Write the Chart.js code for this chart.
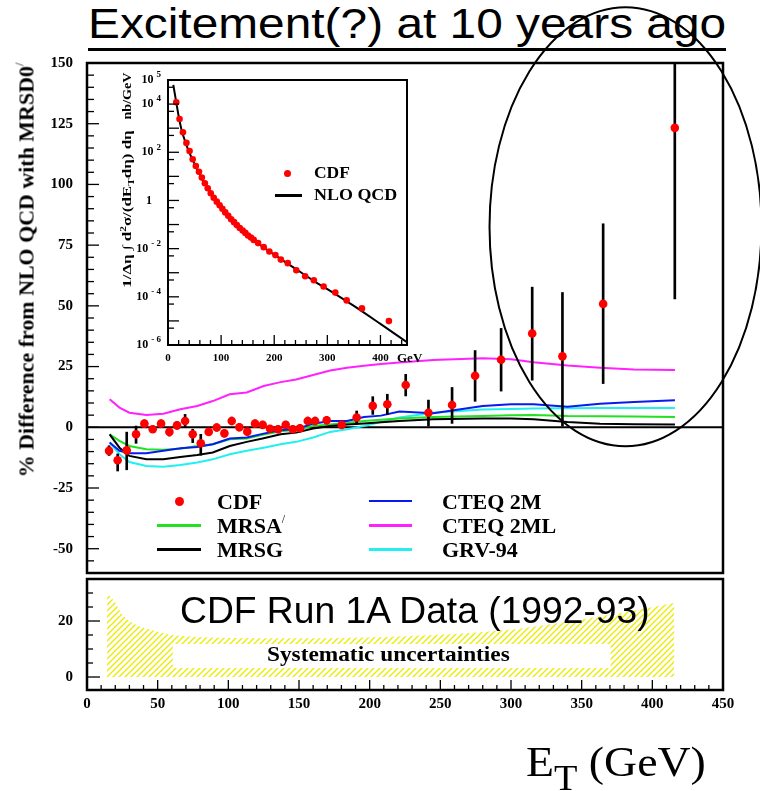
<!DOCTYPE html>
<html>
<head>
<meta charset="utf-8">
<title>CDF Run 1A inclusive jets</title>
<script src="https://cdn.jsdelivr.net/npm/chart.js@4.4.1/dist/chart.umd.min.js"></script>
<style>
  body { margin: 0; background: #fff; }
  #page { position: relative; width: 760px; height: 791px; overflow: hidden; font-family: "Liberation Serif", serif; color: #000; }
  canvas { position: absolute; }
  .fit { position: absolute; white-space: nowrap; transform-origin: 0 50%; }
  .rot { position: absolute; white-space: nowrap; transform-origin: 50% 50%; transform: translate(-50%,-50%) rotate(-90deg); }
  .b { font-weight: bold; }
  .sw { position: absolute; }
  .dot { position: absolute; border-radius: 50%; background: #ff0000; }
  sup, sub, .pr { line-height: 0; }
  .pr { font-size: 12px; font-weight: normal; vertical-align: 10px; }
</style>
</head>
<body>
<div id="page">
  <div class="fit" data-w="638" style="left:88px;top:3px;font:42px/42px 'Liberation Sans',sans-serif;">Excitement(?) at 10 years ago</div>
  <div style="position:absolute;left:88px;top:48px;width:638px;height:3px;background:#000;"></div>

  <canvas id="main" width="760" height="791" style="left:0;top:0;"></canvas>
  <canvas id="lower" width="760" height="160" style="left:0;top:556px;"></canvas>
  <canvas id="inset" width="330" height="320" style="left:100px;top:60px;"></canvas>

  <!-- axis titles -->
  <div class="rot b" data-w="415" style="left:27px;top:270px;font-size:21px;line-height:21px;">% Difference from NLO QCD with MRSD0<span class="pr">/</span></div>
  <div class="rot b" data-w="47" style="left:127px;top:96px;font-size:12px;line-height:12px;">nb/GeV</div>
  <div class="rot b" data-w="158" style="left:127px;top:209px;font-size:12px;line-height:12px;">1/&Delta;&eta; &int; d<sup style="font-size:8px;">2</sup>&sigma;/(dE<sub style="font-size:8px;">T</sub>d&eta;) d&eta;</div>
  <div class="fit b" style="left:397px;top:350.5px;font-size:13px;line-height:13px;">GeV</div>
  <div class="fit" data-w="180" style="left:526px;top:739.5px;font-size:43px;line-height:43px;">E<span style="font-size:36px;vertical-align:-14px;line-height:0;">T</span> (GeV)</div>

  <!-- inset legend -->
  <div class="dot" style="left:283.5px;top:169.5px;width:7px;height:7px;"></div>
  <div class="fit b" data-w="36" style="left:314px;top:165px;font-size:16px;line-height:16px;">CDF</div>
  <div class="sw" style="left:275px;top:194px;width:27px;height:2.5px;background:#000;"></div>
  <div class="fit b" data-w="83" style="left:314px;top:187px;font-size:16px;line-height:16px;">NLO QCD</div>

  <!-- main legend -->
  <div class="dot" style="left:174.5px;top:496.5px;width:9px;height:9px;"></div>
  <div class="fit b" style="left:217px;top:490.5px;font-size:22px;line-height:22px;">CDF</div>
  <div class="sw" style="left:157px;top:524px;width:44px;height:2.5px;background:#22e022;"></div>
  <div class="fit b" style="left:217px;top:515px;font-size:22px;line-height:22px;">MRSA<span class="pr">/</span></div>
  <div class="sw" style="left:157px;top:548px;width:44px;height:2.5px;background:#000;"></div>
  <div class="fit b" style="left:217px;top:539px;font-size:22px;line-height:22px;">MRSG</div>
  <div class="sw" style="left:369px;top:499.5px;width:43px;height:2.5px;background:#0a1aee;"></div>
  <div class="fit b" style="left:442px;top:490.5px;font-size:22px;line-height:22px;">CTEQ 2M</div>
  <div class="sw" style="left:369px;top:524px;width:43px;height:2.5px;background:#ff22ff;"></div>
  <div class="fit b" style="left:442px;top:515px;font-size:22px;line-height:22px;">CTEQ 2ML</div>
  <div class="sw" style="left:369px;top:548px;width:43px;height:2.5px;background:#22f0f0;"></div>
  <div class="fit b" style="left:442px;top:539px;font-size:22px;line-height:22px;">GRV-94</div>

  <!-- lower panel texts -->
  <div class="fit" data-w="470" style="left:180px;top:591.5px;font:37px/37px 'Liberation Sans',sans-serif;">CDF Run 1A Data (1992-93)</div>
  <div class="fit b" data-w="243" style="left:267px;top:644px;font-size:21px;line-height:21px;">Systematic uncertainties</div>
</div>

<script>
Chart.defaults.font.family = "'Liberation Serif', serif";
Chart.defaults.font.weight = 'bold';
Chart.defaults.color = '#000';

// CDF inclusive jet points: E_T bin, % difference, error bar ends
const cdfEt = [15.6, 21.7, 28.1, 34.7, 40.6, 46.5, 52.4, 58.3, 63.7, 69.4, 74.8, 80.5, 86.1, 91.8, 97.2, 102.4, 107.8, 113.4, 118.9, 124.3, 129.5, 135.2, 140.6, 145.6, 150.7, 156.2, 161.4, 169.6, 180.2, 190.8, 202.2, 212.5, 225.5, 241.6, 258.3, 274.6, 293.0, 315.0, 336.4, 365.2, 415.9];
const cdfDiff = [-9.7, -13.6, -9.5, -2.9, 1.5, -0.8, 1.5, -1.9, 0.8, 2.6, -2.9, -6.6, -1.9, -0.1, -2.5, 2.6, 0.0, -1.8, 1.5, 1.0, -0.6, -0.8, 1.0, -0.8, -0.4, 2.6, 2.6, 2.9, 1.0, 4.0, 8.8, 9.5, 17.4, 6.0, 9.2, 21.2, 27.8, 38.6, 29.2, 50.8, 123.3];
const cdfLo = [-11.6, -18, -17.5, -6.6, 0, -2.2, 0, -3.6, -0.8, -0.1, -6.3, -11.5, -3.4, -1.6, -4, 1, -1.5, -3.3, 0, -0.5, -2, -2.3, -0.5, -2.3, -1.9, 1, 1, 1.4, -0.5, 1.3, 5.3, 5.3, 12.9, 0.5, 1.6, 10.7, 14.9, 19.4, 0.5, 18, 52.9];
const cdfHi = [-7.6, -11, -2, 0.5, 3, 0.6, 3, -0.2, 2.4, 5.3, -0.8, -2.9, -0.4, 1.4, -1, 4.2, 1.5, -0.3, 3, 2.5, 0.8, 0.7, 2.5, 0.7, 1.1, 4.2, 4.2, 4.4, 2.5, 6.7, 12.6, 13.6, 21.8, 11.2, 16.4, 31.6, 40.7, 57.7, 55.5, 83.8, 175];

// inset: cross section (nb/GeV)
const cdfXsec = [1.2e4, 2.4e3, 680, 245, 112, 51, 27, 15.5, 8.9, 5.2, 3.2, 2.0, 1.3, 0.89, 0.63, 0.45, 0.32, 0.23, 0.166, 0.126, 0.095, 0.072, 0.056, 0.045, 0.035, 0.029, 0.023, 0.017, 0.0115, 0.0076, 0.0054, 0.0035, 0.0025, 0.00126, 7.1e-4, 4.9e-4, 2.7e-4, 1.5e-4, 7.1e-5, 3.3e-5, 9.8e-6];
const nloEt = [10, 15, 20, 25, 30, 35, 40, 50, 60, 70, 80, 90, 100, 110, 120, 130, 140, 150, 160, 180, 200, 225, 250, 275, 300, 350, 400, 450];
const nloXsec = [6.3e4, 1.4e4, 3.2e3, 950, 400, 190, 100, 33, 11.5, 4.6, 2.0, 0.95, 0.5, 0.27, 0.155, 0.092, 0.056, 0.036, 0.024, 0.0112, 0.0056, 0.0024, 0.00105, 4.5e-4, 2.1e-4, 4.2e-5, 7.5e-6, 1.3e-6];

// theory curves relative to MRSD0'
const thEt = [16, 23, 30, 42, 54, 66, 78, 89, 101, 113, 125, 137, 148, 160, 172, 184, 196, 208, 221, 245, 280, 300, 316, 340, 363, 387, 416];
const mrsa = [-2.9, -5.6, -7.7, -9.0, -9.3, -8.8, -7.7, -7.0, -4.9, -4.6, -3.0, -1.6, -1.0, 0.5, 1.2, 1.9, 2.6, 3.1, 3.6, 4.2, 4.6, 5.0, 5.1, 4.6, 4.5, 4.4, 4.2];
const mrsg = [-2.9, -8.4, -11.8, -13.2, -13.2, -12.2, -11.4, -10.4, -7.7, -6.0, -4.5, -2.9, -2.2, -0.5, 0.5, 1.1, 1.6, 2.1, 2.6, 3.3, 3.6, 3.6, 3.3, 2.2, 1.5, 1.2, 1.1];
const cteq2m = [-6.3, -9.7, -10.7, -10.7, -9.7, -8.6, -8.1, -7.0, -4.6, -4.2, -2.6, -1.1, -0.8, 1.5, 2.6, 2.6, 4.2, 4.8, 6.5, 5.8, 8.8, 9.5, 9.5, 8.5, 9.7, 10.4, 11.1];
const cteq2ml = [11.5, 8.1, 6.0, 5.1, 5.6, 7.4, 8.8, 10.8, 13.6, 14.3, 17.0, 18.6, 19.7, 21.5, 23.4, 24.5, 25.3, 26.1, 26.7, 27.7, 28.4, 28.0, 26.8, 25.4, 24.5, 23.8, 23.6];
const grv94 = [-6.3, -11.1, -14.3, -15.9, -16.2, -15.5, -14.5, -13.2, -11.1, -9.7, -8.4, -7.0, -6.0, -4.2, -1.9, -0.8, 0.5, 2.2, 4.0, 6.0, 7.3, 7.5, 7.7, 7.8, 7.9, 7.9, 7.9];

// systematic band (lower panel)
const sysEt = [14.2, 19.5, 26.3, 36.7, 50.3, 60.6, 80, 108, 177, 245.6, 297, 348, 382.6, 415.6];
const sysTop = [30, 26.9, 21.5, 18.2, 16.2, 15.0, 14.3, 13.9, 13.9, 15.0, 16.8, 20.4, 23.3, 26.4];
const holeEt = [60.6, 370.6];
const holeTop = [11.8, 11.8];
const holeBottom = 3.2;

// tick labels
const mainYTicks = [-50, -25, 0, 25, 50, 75, 100, 125, 150];
const lowYTicks = [0, 20];
const etTicks = [0, 50, 100, 150, 200, 250, 300, 350, 400, 450];
const insetEtTicks = [0, 100, 200, 300, 400];
const insetExps = [5, 4, 2, 0, -2, -4, -6];

// hand drawn ellipse, in data units of the main panel
const circled = { et: 381, diff: 82.6, rEt: 96.2, rDiff: 90.4 };

const xy = (xs, ys) => xs.map((x, i) => ({ x: x, y: ys[i] }));
function steps(a, b, s) {
  const r = [];
  for (let v = a; v <= b + 1e-9; v += s) r.push(+v.toFixed(6));
  return r;
}

// box + inward ticks
const frame = {
  id: 'frame',
  beforeDraw(chart, args, o) {
    if (!o.fill) return;
    const a = chart.chartArea, ctx = chart.ctx;
    ctx.save();
    ctx.fillStyle = o.fill;
    ctx.fillRect(a.left, a.top, a.width, a.height);
    ctx.restore();
  },
  afterDatasetsDraw(chart, args, o) {
    const { ctx, chartArea: a } = chart;
    ctx.save();
    ctx.strokeStyle = '#000';
    ctx.lineWidth = 1.3;
    (o.ticks || []).forEach(t => {
      const sc = chart.scales[t.axis];
      t.at.forEach(v => {
        const p = sc.getPixelForValue(v);
        const len = t.major.includes(v) ? t.long : t.short;
        ctx.beginPath();
        if (t.axis === 'y') { ctx.moveTo(a.left, p); ctx.lineTo(a.left + len, p); }
        else { ctx.moveTo(p, a.bottom); ctx.lineTo(p, a.bottom - len); }
        ctx.stroke();
      });
    });
    ctx.lineWidth = o.border;
    ctx.strokeRect(a.left, a.top, a.width, a.height);
    ctx.restore();
  }
};

const ellipse = {
  id: 'ellipse',
  afterDraw(chart) {
    const { ctx, scales: { x, y } } = chart;
    const cx = x.getPixelForValue(circled.et), cy = y.getPixelForValue(circled.diff);
    const rx = x.getPixelForValue(circled.et + circled.rEt) - cx;
    const ry = cy - y.getPixelForValue(circled.diff + circled.rDiff);
    ctx.save();
    ctx.beginPath();
    ctx.ellipse(cx, cy, rx, ry, 0, 0, 2 * Math.PI);
    ctx.lineWidth = 2;
    ctx.strokeStyle = '#000';
    ctx.stroke();
    ctx.restore();
  }
};

// inset tick labels with raised exponents
const insetLabels = {
  id: 'insetLabels',
  afterDraw(chart) {
    const { ctx, chartArea: a, scales: { x, y } } = chart;
    ctx.save();
    ctx.fillStyle = '#000';
    ctx.textBaseline = 'middle';
    ctx.font = "bold 11px 'Liberation Serif'";
    ctx.textAlign = 'center';
    insetEtTicks.forEach(v => ctx.fillText(String(v), x.getPixelForValue(v), a.bottom + 13));
    insetExps.forEach(e => {
      const py = y.getPixelForValue(Math.pow(10, e));
      ctx.textAlign = 'right';
      if (e === 0) {
        ctx.font = "bold 12px 'Liberation Serif'";
        ctx.fillText('1', a.left - 16, py);
        return;
      }
      ctx.font = "bold 9px 'Liberation Serif'";
      const ex = String(e).replace('-', '- ');
      const ew = ctx.measureText(ex).width;
      ctx.fillText(ex, a.left - 7, py - 5);
      ctx.font = "bold 12px 'Liberation Serif'";
      ctx.fillText('10', a.left - 7 - ew - 3, py);
    });
    ctx.restore();
  }
};

function hatch() {
  const c = document.createElement('canvas');
  c.width = 6; c.height = 6;
  const g = c.getContext('2d');
  g.strokeStyle = '#eaea00';
  g.lineWidth = 1.3;
  g.beginPath();
  g.moveTo(0, 6); g.lineTo(6, 0);
  g.moveTo(-1, 1); g.lineTo(1, -1);
  g.moveTo(5, 7); g.lineTo(7, 5);
  g.stroke();
  return g.createPattern(c, 'repeat');
}

function curve(label, ys, color, order) {
  return { label: label, data: xy(thEt, ys), borderColor: color, borderWidth: 2, pointRadius: 0, order: order };
}

// main panel
new Chart(document.getElementById('main'), {
  type: 'line',
  data: {
    datasets: [
      { label: 'CDF', data: xy(cdfEt, cdfDiff), showLine: false, pointRadius: 4.3, pointBackgroundColor: '#ff0000', pointBorderWidth: 0, order: 0 },
      { type: 'bar', label: 'err', data: cdfEt.map((x, i) => ({ x: x, y: [cdfLo[i], cdfHi[i]] })), backgroundColor: '#000', barThickness: 2, grouped: false, order: 1 },
      curve('CTEQ 2M', cteq2m, '#0a1aee', 2),
      curve('MRSG', mrsg, '#000000', 3),
      curve('MRSA\'', mrsa, '#22e022', 4),
      curve('GRV-94', grv94, '#22f0f0', 5),
      curve('CTEQ 2ML', cteq2ml, '#ff22ff', 6),
      { label: 'zero', data: [{ x: 0, y: 0 }, { x: 450, y: 0 }], borderColor: '#000', borderWidth: 2, pointRadius: 0, order: 7 }
    ]
  },
  options: {
    responsive: false,
    animation: false,
    events: [],
    layout: { padding: { left: 0, top: 63, right: 37, bottom: 218 } },
    scales: {
      x: { type: 'linear', min: 0, max: 450, offset: false, display: false },
      y: {
        type: 'linear', min: -60, max: 150,
        afterBuildTicks: s => { s.ticks = mainYTicks.map(v => ({ value: v })); },
        afterFit: s => { s.width = 87; },
        grid: { display: false, drawTicks: false },
        border: { display: false },
        ticks: { padding: 14, font: { size: 15 } }
      }
    },
    plugins: {
      legend: { display: false },
      tooltip: { enabled: false },
      frame: { border: 2.5, ticks: [{ axis: 'y', at: steps(-60, 150, 5), major: mainYTicks, short: 7, long: 12 }] }
    }
  },
  plugins: [frame, ellipse]
});

// lower panel: systematic uncertainty band
new Chart(document.getElementById('lower'), {
  type: 'line',
  data: {
    datasets: [
      { label: 'hole', data: xy(holeEt, holeTop), fill: { value: holeBottom }, backgroundColor: '#ffffff', borderWidth: 0, pointRadius: 0, order: 1 },
      { label: 'syst', data: xy(sysEt, sysTop), fill: 'origin', backgroundColor: hatch(), borderWidth: 0, pointRadius: 0, tension: 0.3, order: 2 }
    ]
  },
  options: {
    responsive: false,
    animation: false,
    events: [],
    layout: { padding: { left: 0, top: 0, right: 37, bottom: 0 } },
    scales: {
      x: {
        type: 'linear', min: 0, max: 450, offset: false,
        afterBuildTicks: s => { s.ticks = etTicks.map(v => ({ value: v })); },
        afterFit: s => { s.height = 26; },
        grid: { display: false, drawTicks: false },
        border: { display: false },
        ticks: { padding: 5, font: { size: 15 }, maxRotation: 0, autoSkip: false }
      },
      y: {
        type: 'linear', min: -4.64, max: 35,
        afterBuildTicks: s => { s.ticks = lowYTicks.map(v => ({ value: v })); },
        afterFit: s => { s.width = 87; },
        grid: { display: false, drawTicks: false },
        border: { display: false },
        ticks: { padding: 14, font: { size: 15 } }
      }
    },
    plugins: {
      legend: { display: false },
      tooltip: { enabled: false },
      frame: {
        border: 2.5,
        ticks: [
          { axis: 'y', at: steps(0, 30, 5), major: lowYTicks, short: 6, long: 13 },
          { axis: 'x', at: steps(0, 450, 10), major: etTicks, short: 5, long: 10 }
        ]
      }
    }
  },
  plugins: [frame]
});

// inset: cross section vs E_T
new Chart(document.getElementById('inset'), {
  type: 'line',
  data: {
    datasets: [
      { label: 'CDF', data: xy(cdfEt, cdfXsec), showLine: false, pointRadius: 3.3, pointBackgroundColor: '#ff0000', pointBorderWidth: 0, order: 0 },
      { label: 'NLO QCD', data: xy(nloEt, nloXsec), borderColor: '#000', borderWidth: 2, pointRadius: 0, cubicInterpolationMode: 'monotone', order: 1 }
    ]
  },
  options: {
    responsive: false,
    animation: false,
    events: [],
    layout: { padding: { left: 68, top: 20, right: 23, bottom: 35 } },
    scales: {
      x: { type: 'linear', min: 0, max: 450, offset: false, display: false },
      y: { type: 'logarithmic', min: 1e-6, max: 1e5, display: false }
    },
    plugins: {
      legend: { display: false },
      tooltip: { enabled: false },
      frame: {
        fill: '#ffffff',
        border: 2,
        ticks: [
          { axis: 'y', at: steps(-6, 5, 1).map(e => Math.pow(10, e)).concat(steps(-6, 4, 1).map(e => 5 * Math.pow(10, e))), major: steps(-6, 5, 1).map(e => Math.pow(10, e)), short: 6, long: 11 },
          { axis: 'x', at: steps(0, 440, 20), major: insetEtTicks, short: 5, long: 10 }
        ]
      }
    }
  },
  plugins: [frame, insetLabels]
});

// squeeze texts to the widths seen in the picture
document.querySelectorAll('[data-w]').forEach(el => {
  const k = (+el.dataset.w) / el.offsetWidth;
  const base = el.classList.contains('rot') ? 'translate(-50%,-50%) rotate(-90deg) ' : '';
  el.style.transform = base + 'scaleX(' + k.toFixed(3) + ')';
});
</script>
</body>
</html>
